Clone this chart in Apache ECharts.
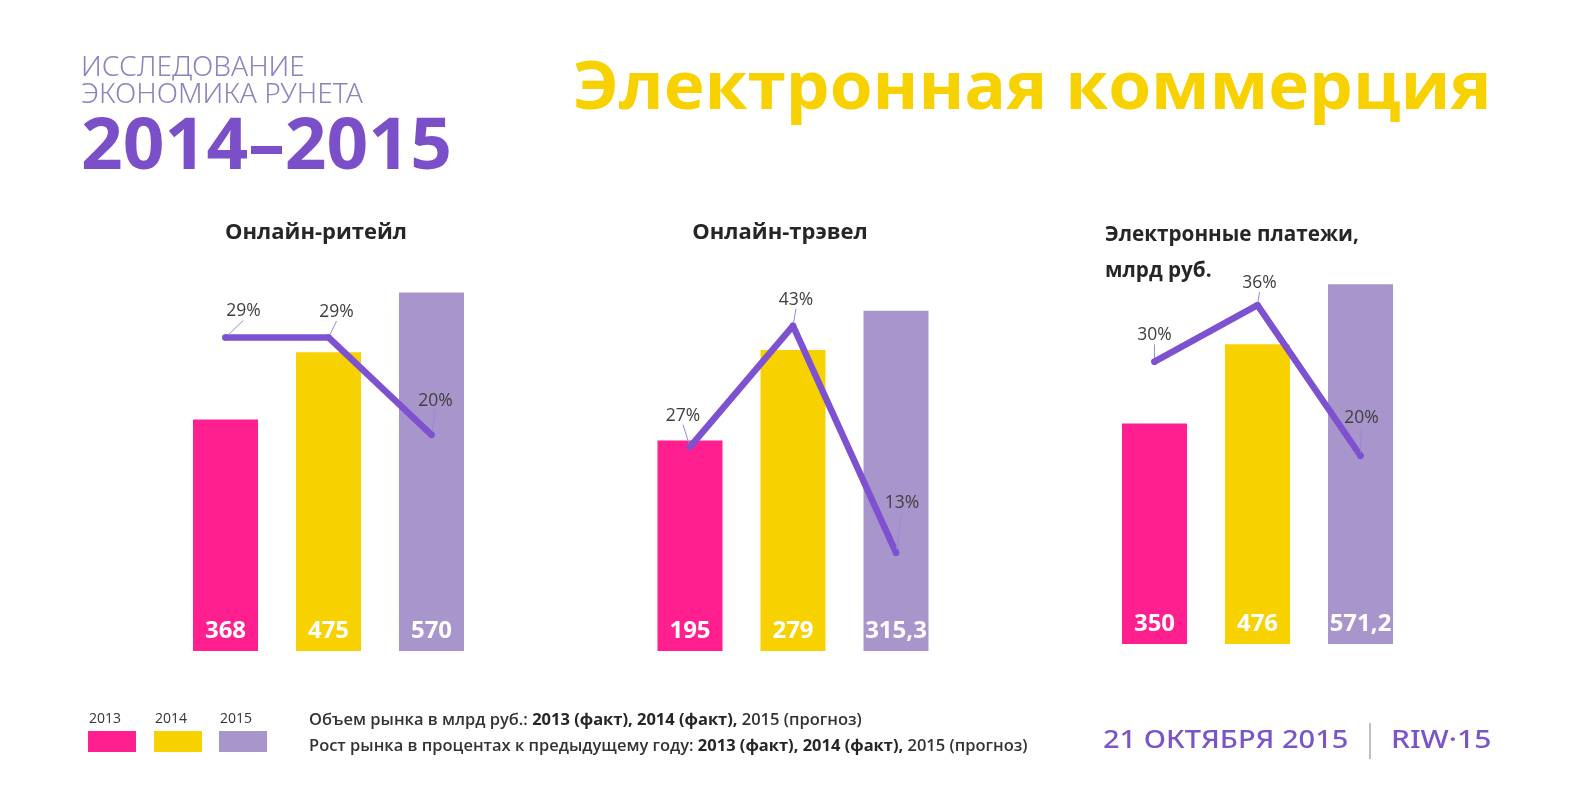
<!DOCTYPE html>
<html>
<head>
<meta charset="utf-8">
<script src="https://cdn.jsdelivr.net/npm/echarts@6/dist/echarts.min.js"></script>
<style>
html,body{margin:0;padding:0;background:#fff;}
#chart{width:1576px;height:800px;}
</style>
</head>
<body>
<div id="chart"></div>
<script>
// ---------- DATA ----------
const categories = ['2013', '2014', '2015'];
const panelTitles = ['Онлайн-ритейл', 'Онлайн-трэвел', 'Электронные платежи,\nмлрд руб.'];
const retailValues = [368, 475, 570];
const retailGrowth = [29, 29, 20];
const travelValues = [195, 279, 315.3];
const travelGrowth = [27, 43, 13];
const paymentValues = [350, 476, 571.2];
const paymentGrowth = [30, 36, 20];
const mainTitle = 'Электронная коммерция';
const logoLines = ['ИССЛЕДОВАНИЕ', 'ЭКОНОМИКА РУНЕТА', '2014–2015'];
const noteLine1 = ['Объем рынка в млрд руб.: ', '2013 (факт), 2014 (факт), ', '2015 (прогноз)'];
const noteLine2 = ['Рост рынка в процентах к предыдущему году: ', '2013 (факт), 2014 (факт), ', '2015 (прогноз)'];
const footerDate = '21 ОКТЯБРЯ 2015';
const footerBrand = 'RIW·15';

// ---------- STYLE ----------
const barColors = ['#FF1F8E', '#F8D200', '#A895CB'];
const lineColor = '#7E51D0';
const panels = [
  { values: retailValues, growth: retailGrowth, left: 174, top: 251, height: 400, barMax: 636, pctMax: 37.0,
    titleX: 316, titleY: 233, titleAlign: 'center', titleScale: 1,
    labelOff: [[18, -25], [8, -24], [4, -33]] },
  { values: travelValues, growth: travelGrowth, left: 638.5, top: 251, height: 400, barMax: 370.7, pctMax: 52.9,
    titleX: 780, titleY: 233, titleAlign: 'center', titleScale: 1,
    labelOff: [[-7, -30], [3, -25], [6, -48]] },
  { values: paymentValues, growth: paymentGrowth, left: 1103, top: 244, height: 400, barMax: 635, pctMax: 42.5,
    titleX: 1105, titleY: 217, titleAlign: 'left', titleScale: 0.94,
    labelOff: [[0, -25], [2, -21], [1, -36]] }
];
const FONT = '"Open Sans", "Noto Sans", sans-serif';

const grid = [], xAxis = [], yAxis = [], series = [], graphic = [];
panels.forEach((p, i) => {
  grid.push({ left: p.left, top: p.top, width: 309, height: p.height });
  xAxis.push({ type: 'category', gridIndex: i, data: categories, show: false, boundaryGap: true });
  yAxis.push({ type: 'value', gridIndex: i, min: 0, max: p.barMax, show: false, splitLine: { show: false } });
  yAxis.push({ type: 'value', gridIndex: i, min: 0, max: p.pctMax, show: false, splitLine: { show: false } });
  series.push({
    type: 'bar', xAxisIndex: i, yAxisIndex: 2 * i, barWidth: 65,
    data: p.values.map((v, k) => ({ value: v, itemStyle: { color: barColors[k] } })),
    label: {
      show: true, position: 'insideBottom', distance: 8, color: '#fff',
      fontFamily: FONT, fontWeight: 'bold', fontSize: 24,
      formatter: (prm) => String(prm.value).replace('.', ',')
    },
    silent: true
  });
  series.push({
    type: 'line', xAxisIndex: i, yAxisIndex: 2 * i + 1,
    data: p.growth,
    symbol: 'circle', symbolSize: 6.5, showSymbol: true,
    itemStyle: { color: lineColor },
    lineStyle: { color: lineColor, width: 6.5, cap: 'round', join: 'round' },
    label: {
      show: true, position: 'top', distance: 0, color: '#404040',
      fontFamily: FONT, fontSize: 17.5, formatter: '{c}%'
    },
    labelLayout: (prm) => {
      const o = p.labelOff[prm.dataIndex];
      return { dx: o[0], dy: o[1] + 11 };
    },
    labelLine: { show: true, lineStyle: { color: '#9C88D2', width: 1 } },
    z: 5, silent: true
  });
  graphic.push({
    type: 'text',
    x: p.titleX, y: p.titleY, scaleX: p.titleScale,
    style: {
      text: panelTitles[i], fill: '#262626', font: 'bold 22px ' + FONT,
      align: p.titleAlign, verticalAlign: i === 2 ? 'top' : 'middle', lineHeight: 36
    }
  });
});

// header
graphic.push({ type: 'text', x: 573, y: 90, scaleX: 1.05, style: { text: mainTitle, fill: '#F8D200', font: 'bold 66px ' + FONT, verticalAlign: 'middle' } });
graphic.push({ type: 'text', x: 81, y: 68, scaleX: 1.044, style: { text: logoLines[0], fill: '#8F82BE', font: '300 27px "Noto Sans", sans-serif', verticalAlign: 'middle' } });
graphic.push({ type: 'text', x: 81, y: 95, scaleX: 1.044, style: { text: logoLines[1], fill: '#8F82BE', font: '300 27px "Noto Sans", sans-serif', verticalAlign: 'middle' } });
graphic.push({ type: 'text', x: 81, y: 148, scaleX: 1.015, style: { text: logoLines[2], fill: '#7B4FC8', font: 'bold 72px "Noto Sans", sans-serif', verticalAlign: 'middle' } });

// legend
const legX = [88, 154, 219];
categories.forEach((c, k) => {
  graphic.push({ type: 'text', x: legX[k] + 1, y: 719, style: { text: c, fill: '#333', font: '14px ' + FONT, verticalAlign: 'middle' } });
  graphic.push({ type: 'rect', shape: { x: legX[k], y: 731, width: 48, height: 21 }, style: { fill: barColors[k] } });
});

// notes
function noteRich(parts, y) {
  return {
    type: 'text', x: 309, y: y, scaleX: 1.03,
    style: {
      text: '{a|' + parts[0] + '}{b|' + parts[1] + '}{c|' + parts[2] + '}',
      verticalAlign: 'middle',
      rich: {
        a: { fill: '#333', font: '600 16px ' + FONT },
        b: { fill: '#262626', font: 'bold 16px ' + FONT },
        c: { fill: '#333', font: '600 16px ' + FONT }
      }
    }
  };
}
graphic.push(noteRich(noteLine1, 720));
graphic.push(noteRich(noteLine2, 746));

// footer
graphic.push({ type: 'text', x: 1103, y: 741, scaleX: 1.16, style: { text: footerDate, fill: '#7B55C8', font: '500 25px "Noto Sans", sans-serif', verticalAlign: 'middle' } });
graphic.push({ type: 'line', shape: { x1: 1370, y1: 723, x2: 1370, y2: 759 }, style: { stroke: '#A9A9A9', lineWidth: 1.5 } });
graphic.push({ type: 'text', x: 1391, y: 741, scaleX: 1.2, style: { text: footerBrand, fill: '#7B55C8', font: '500 25px "Noto Sans", sans-serif', verticalAlign: 'middle' } });

const chart = echarts.init(document.getElementById('chart'), null, { renderer: 'canvas' });
chart.setOption({
  animation: false,
  backgroundColor: '#fff',
  grid, xAxis, yAxis, series, graphic
});
</script>
</body>
</html>
